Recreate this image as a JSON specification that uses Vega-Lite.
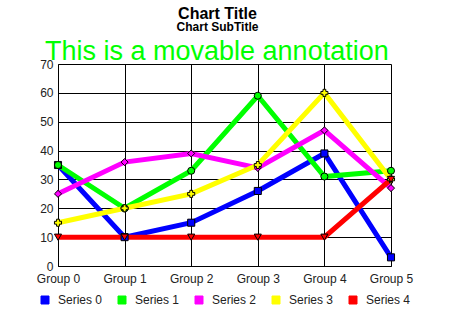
{
  "$schema": "https://vega.github.io/schema/vega-lite/v6.json",
  "width": 333,
  "height": 202,
  "autosize": "none",
  "padding": {"left": 58, "top": 64, "right": 63, "bottom": 47},
  "background": "white",
  "title": {
    "text": "Chart Title",
    "subtitle": "Chart SubTitle",
    "font": "Liberation Sans",
    "fontSize": 16,
    "fontWeight": "bold",
    "color": "black",
    "subtitleFont": "Liberation Sans",
    "subtitleFontSize": 12,
    "subtitleFontWeight": "bold",
    "subtitleColor": "black",
    "subtitlePadding": 0,
    "anchor": "middle",
    "dx": -7,
    "offset": 5
  },
  "data": {
    "values": [
      {"series": "Series 0", "group": "Group 0", "value": 35},
      {"series": "Series 0", "group": "Group 1", "value": 10},
      {"series": "Series 0", "group": "Group 2", "value": 15},
      {"series": "Series 0", "group": "Group 3", "value": 26},
      {"series": "Series 0", "group": "Group 4", "value": 39},
      {"series": "Series 0", "group": "Group 5", "value": 3},
      {"series": "Series 1", "group": "Group 0", "value": 35},
      {"series": "Series 1", "group": "Group 1", "value": 20},
      {"series": "Series 1", "group": "Group 2", "value": 33},
      {"series": "Series 1", "group": "Group 3", "value": 59},
      {"series": "Series 1", "group": "Group 4", "value": 31},
      {"series": "Series 1", "group": "Group 5", "value": 33},
      {"series": "Series 2", "group": "Group 0", "value": 25},
      {"series": "Series 2", "group": "Group 1", "value": 36},
      {"series": "Series 2", "group": "Group 2", "value": 39},
      {"series": "Series 2", "group": "Group 3", "value": 34},
      {"series": "Series 2", "group": "Group 4", "value": 47},
      {"series": "Series 2", "group": "Group 5", "value": 27},
      {"series": "Series 3", "group": "Group 0", "value": 15},
      {"series": "Series 3", "group": "Group 1", "value": 20},
      {"series": "Series 3", "group": "Group 2", "value": 25},
      {"series": "Series 3", "group": "Group 3", "value": 35},
      {"series": "Series 3", "group": "Group 4", "value": 60},
      {"series": "Series 3", "group": "Group 5", "value": 30},
      {"series": "Series 4", "group": "Group 0", "value": 10},
      {"series": "Series 4", "group": "Group 1", "value": 10},
      {"series": "Series 4", "group": "Group 2", "value": 10},
      {"series": "Series 4", "group": "Group 3", "value": 10},
      {"series": "Series 4", "group": "Group 4", "value": 10},
      {"series": "Series 4", "group": "Group 5", "value": 30}
    ]
  },
  "encoding": {
    "x": {
      "field": "group",
      "type": "ordinal",
      "scale": {"type": "point", "padding": 0},
      "axis": {
        "title": null,
        "labelAngle": 0,
        "labelFont": "Liberation Sans",
        "labelFontSize": 12,
        "labelColor": "#222222",
        "labelPadding": 7,
        "ticks": false,
        "domainColor": "black",
        "grid": true,
        "gridColor": "black",
        "gridOpacity": 1,
        "gridWidth": 1
      }
    },
    "y": {
      "field": "value",
      "type": "quantitative",
      "scale": {"domain": [0, 70], "nice": false},
      "axis": {
        "title": null,
        "values": [0, 10, 20, 30, 40, 50, 60, 70],
        "labelFont": "Liberation Sans",
        "labelFontSize": 12,
        "labelColor": "#222222",
        "labelPadding": 5,
        "ticks": false,
        "domainColor": "black",
        "gridColor": "black",
        "gridOpacity": 1,
        "gridWidth": 1
      }
    },
    "color": {
      "field": "series",
      "type": "nominal",
      "scale": {
        "domain": ["Series 0", "Series 1", "Series 2", "Series 3", "Series 4"],
        "range": ["#0000FF", "#00FF00", "#FF00FF", "#FFFF00", "#FF0000"]
      },
      "legend": {
        "title": null,
        "orient": "none",
        "direction": "horizontal",
        "legendX": -19,
        "legendY": 230,
        "symbolType": "square",
        "symbolSize": 64,
        "symbolStrokeWidth": 1,
        "symbolStrokeColor": "black",
        "labelFont": "Liberation Sans",
        "labelFontSize": 12,
        "labelColor": "#222222",
        "labelOffset": 7,
        "columnPadding": 13,
        "encode": {
          "symbols": {
            "update": {
              "fill": {"scale": "color", "field": "value"},
              "stroke": {"value": "black"},
              "strokeWidth": {"value": 1},
              "opacity": {"value": 1},
              "fillOpacity": {"value": 1}
            }
          }
        }
      }
    }
  },
  "layer": [
    {
      "mark": {"type": "line", "strokeWidth": 5}
    },
    {
      "transform": [{"filter": "datum.series === 'Series 0'"}],
      "mark": {"type": "point", "shape": "square", "filled": true, "stroke": "black", "strokeWidth": 1, "opacity": 1, "size": 50}
    },
    {
      "transform": [{"filter": "datum.series === 'Series 1'"}],
      "mark": {"type": "point", "shape": "circle", "filled": true, "stroke": "black", "strokeWidth": 1, "opacity": 1, "size": 50}
    },
    {
      "transform": [{"filter": "datum.series === 'Series 2'"}],
      "mark": {"type": "point", "shape": "diamond", "filled": true, "stroke": "black", "strokeWidth": 1, "opacity": 1, "size": 50}
    },
    {
      "transform": [{"filter": "datum.series === 'Series 3'"}],
      "mark": {"type": "point", "shape": "cross", "filled": true, "stroke": "black", "strokeWidth": 1, "opacity": 1, "size": 50}
    },
    {
      "transform": [{"filter": "datum.series === 'Series 4'"}],
      "mark": {"type": "point", "shape": "triangle-down", "filled": true, "stroke": "black", "strokeWidth": 1, "opacity": 1, "size": 50}
    },
    {
      "data": {"values": [{"label": "This is a movable annotation", "group": "Group 0", "value": 70}]},
      "mark": {
        "type": "text",
        "align": "left",
        "baseline": "alphabetic",
        "dx": -13,
        "dy": -4,
        "font": "Liberation Sans",
        "fontSize": 27
      },
      "encoding": {
        "text": {"field": "label"},
        "color": {"value": "#00FF00"}
      }
    }
  ],
  "config": {
    "view": {"stroke": null}
  }
}
